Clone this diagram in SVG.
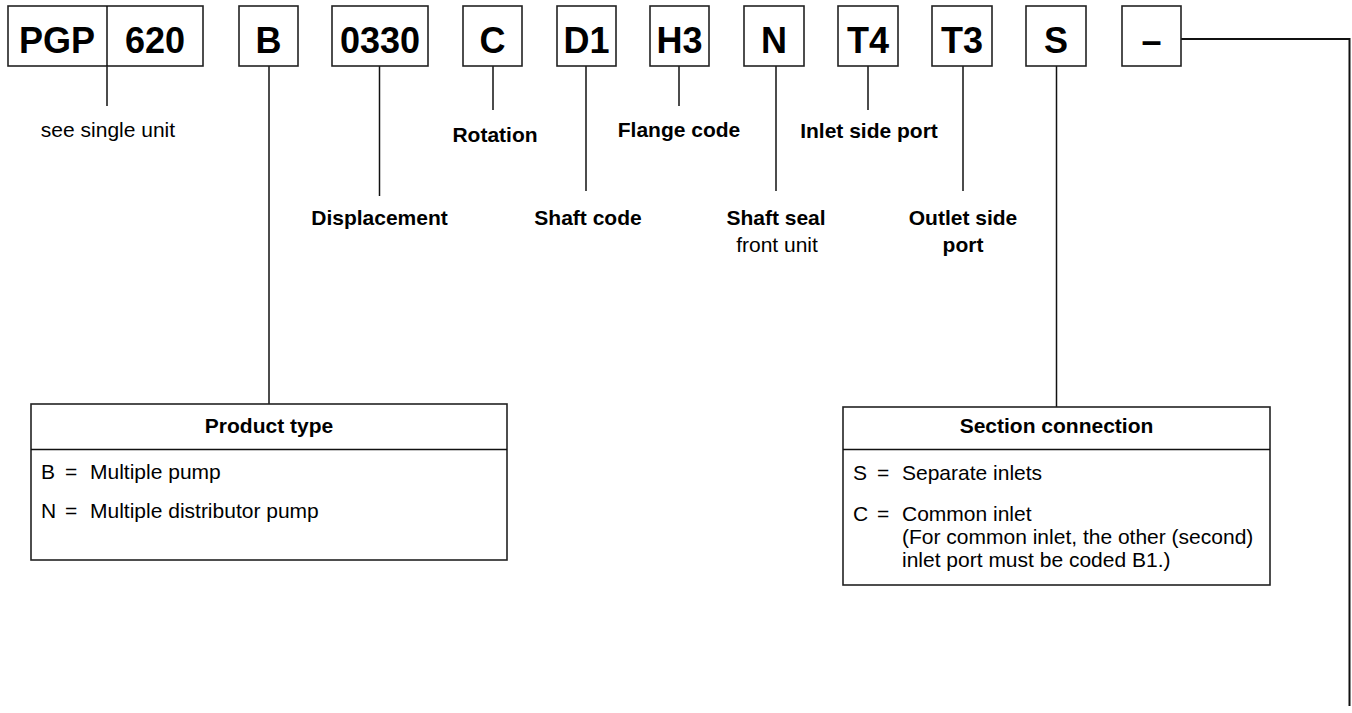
<svg xmlns="http://www.w3.org/2000/svg" width="1352" height="713" viewBox="0 0 1352 713">
<style>
.box{fill:#fff;stroke:#222;stroke-width:1.6}
.ln{fill:none;stroke:#111;stroke-width:1.5}
.code{font-family:"Liberation Sans",Arial,Helvetica,sans-serif;font-size:36px;font-weight:bold;fill:#000;text-anchor:middle}
.lbl{font-family:"Liberation Sans",Arial,Helvetica,sans-serif;font-size:21px;font-weight:bold;fill:#000;text-anchor:middle}
.lbln{font-family:"Liberation Sans",Arial,Helvetica,sans-serif;font-size:21px;fill:#000;text-anchor:middle}
.txt{font-family:"Liberation Sans",Arial,Helvetica,sans-serif;font-size:21px;fill:#000}
</style>
<rect width="1352" height="713" fill="#fff"/>
<g id="connectors">
<line class="ln" x1="107" y1="66" x2="107" y2="106"/>
<line class="ln" x1="269" y1="66" x2="269" y2="404"/>
<line class="ln" x1="379.5" y1="66" x2="379.5" y2="196"/>
<line class="ln" x1="493" y1="66" x2="493" y2="110"/>
<line class="ln" x1="586" y1="66" x2="586" y2="191"/>
<line class="ln" x1="679" y1="66" x2="679" y2="106"/>
<line class="ln" x1="776" y1="66" x2="776" y2="191"/>
<line class="ln" x1="868" y1="66" x2="868" y2="110"/>
<line class="ln" x1="963" y1="66" x2="963" y2="191"/>
<line class="ln" x1="1056.5" y1="66" x2="1056.5" y2="407"/>
<polyline class="ln" points="1181,39 1349.5,39 1349.5,706" style="stroke-width:2"/>
</g>
<g id="node-pgp620">
<rect class="box" x="8" y="6" width="195" height="60"/>
<line class="ln" x1="107" y1="6" x2="107" y2="66"/>
<text class="code" x="57" y="52.5">PGP</text>
<text class="code" x="155" y="52.5">620</text>
</g>
<g id="node-b"><rect class="box" x="239" y="6" width="59" height="60"/><text class="code" x="268.5" y="52.5">B</text></g>
<g id="node-0330"><rect class="box" x="332" y="6" width="96" height="60"/><text class="code" x="380" y="52.5">0330</text></g>
<g id="node-c"><rect class="box" x="463" y="6" width="59" height="60"/><text class="code" x="492.5" y="52.5">C</text></g>
<g id="node-d1"><rect class="box" x="557" y="6" width="59" height="60"/><text class="code" x="586.5" y="52.5">D1</text></g>
<g id="node-h3"><rect class="box" x="650" y="6" width="59" height="60"/><text class="code" x="679.5" y="52.5">H3</text></g>
<g id="node-n"><rect class="box" x="744" y="6" width="60" height="60"/><text class="code" x="774" y="52.5">N</text></g>
<g id="node-t4"><rect class="box" x="838" y="6" width="60" height="60"/><text class="code" x="868" y="52.5">T4</text></g>
<g id="node-t3"><rect class="box" x="932" y="6" width="60" height="60"/><text class="code" x="962" y="52.5">T3</text></g>
<g id="node-s"><rect class="box" x="1026" y="6" width="60" height="60"/><text class="code" x="1056" y="52.5">S</text></g>
<g id="node-dash"><rect class="box" x="1122" y="6" width="59" height="60"/><text class="code" x="1151.5" y="52.5">–</text></g>
<g id="labels">
<text class="lbln" x="108" y="137">see single unit</text>
<text class="lbl" x="379.5" y="225">Displacement</text>
<text class="lbl" x="495" y="141.5">Rotation</text>
<text class="lbl" x="588" y="225">Shaft code</text>
<text class="lbl" x="679" y="136.5">Flange code</text>
<text class="lbl" x="776" y="225">Shaft seal</text>
<text class="lbln" x="777" y="251.5">front unit</text>
<text class="lbl" x="869" y="137.5">Inlet side port</text>
<text class="lbl" x="963" y="225">Outlet side</text>
<text class="lbl" x="963" y="252">port</text>
</g>
<g id="node-product-type">
<rect class="box" x="31" y="404" width="476" height="156"/>
<line class="ln" x1="31" y1="449.5" x2="507" y2="449.5"/>
<text class="lbl" x="269" y="433">Product type</text>
<text class="txt" x="41" y="479">B</text><text class="txt" x="65" y="479">=</text><text class="txt" x="90" y="479">Multiple pump</text>
<text class="txt" x="41" y="518">N</text><text class="txt" x="65" y="518">=</text><text class="txt" x="90" y="518">Multiple distributor pump</text>
</g>
<g id="node-section-connection">
<rect class="box" x="843" y="407" width="427" height="178"/>
<line class="ln" x1="843" y1="449.5" x2="1270" y2="449.5"/>
<text class="lbl" x="1056.5" y="433">Section connection</text>
<text class="txt" x="853" y="480">S</text><text class="txt" x="877" y="480">=</text><text class="txt" x="902" y="480">Separate inlets</text>
<text class="txt" x="853" y="521">C</text><text class="txt" x="877" y="521">=</text><text class="txt" x="902" y="521">Common inlet</text>
<text class="txt" x="902" y="544">(For common inlet, the other (second)</text>
<text class="txt" x="902" y="567">inlet port must be coded B1.)</text>
</g>
</svg>
